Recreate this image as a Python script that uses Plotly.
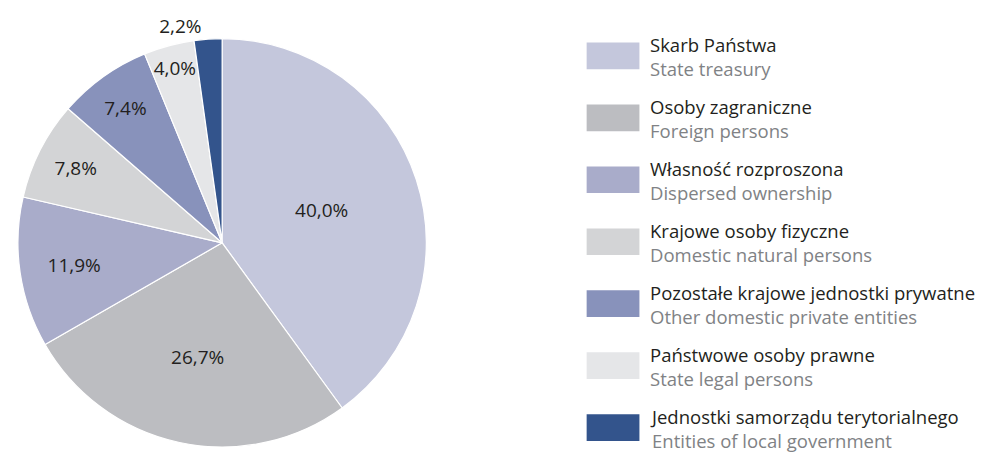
import plotly.graph_objects as go

labels_pl = [
    "Skarb Państwa",
    "Osoby zagraniczne",
    "Własność rozproszona",
    "Krajowe osoby fizyczne",
    "Pozostałe krajowe jednostki prywatne",
    "Państwowe osoby prawne",
    "Jednostki samorządu terytorialnego",
]
labels_en = [
    "State treasury",
    "Foreign persons",
    "Dispersed ownership",
    "Domestic natural persons",
    "Other domestic private entities",
    "State legal persons",
    "Entities of local government",
]
shares = [40.0, 26.7, 11.9, 7.8, 7.4, 4.0, 2.2]
colors = ["#C4C7DC", "#BCBDC1", "#A9ACCA", "#D3D4D6", "#8892BB", "#E5E6E8", "#33548C"]

# page body has an 8px margin, so the figure is sized to fit the window
W, H = 979, 444
FONT = "Open Sans"
SIZE = 19
LEG_SIZE = 18.5
DARK = "#231F20"
GREY = "#808285"


def px_x(v):
    return v / W


def px_y(v):
    return 1 - v / H


text_labels = ["{:.1f}%".format(v).replace(".", ",") for v in shares]

fig = go.Figure()

fig.add_trace(
    go.Pie(
        labels=labels_pl,
        values=shares,
        text=text_labels,
        textinfo="text",
        sort=False,
        direction="clockwise",
        rotation=0,
        marker=dict(colors=colors, line=dict(color="white", width=1.2)),
        textposition=["inside"] * 6 + ["outside"],
        insidetextorientation="horizontal",
        textfont=dict(family=FONT, size=SIZE, color=DARK),
        outsidetextfont=dict(family=FONT, size=SIZE, color=DARK),
        domain=dict(x=[px_x(4), px_x(418)], y=[px_y(444), px_y(30)]),
        showlegend=False,
        hoverinfo="label+percent",
    )
)

# hand-made legend: wide swatches with a Polish and an English line
top0 = 34
step = 62.8
for i, (pl, en, c) in enumerate(zip(labels_pl, labels_en, colors)):
    top = top0 + i * step
    mid = top + 13.5
    fig.add_shape(
        type="rect",
        xref="paper", yref="paper",
        x0=px_x(577), x1=px_x(630),
        y0=px_y(top), y1=px_y(top + 27),
        fillcolor=c,
        line=dict(width=0),
    )
    fig.add_annotation(
        xref="paper", yref="paper",
        x=px_x(639), y=px_y(mid + 1),
        xanchor="left", yanchor="middle",
        text=pl + "<br><span style='color:" + GREY + "'>" + en + "</span>",
        align="left",
        showarrow=False,
        font=dict(family=FONT, size=LEG_SIZE, color=DARK),
    )

fig.update_layout(
    width=W,
    height=H,
    margin=dict(l=0, r=0, t=0, b=0),
    paper_bgcolor="white",
    plot_bgcolor="white",
    uniformtext=dict(minsize=SIZE, mode="show"),
)

fig.write_html("out.html")
